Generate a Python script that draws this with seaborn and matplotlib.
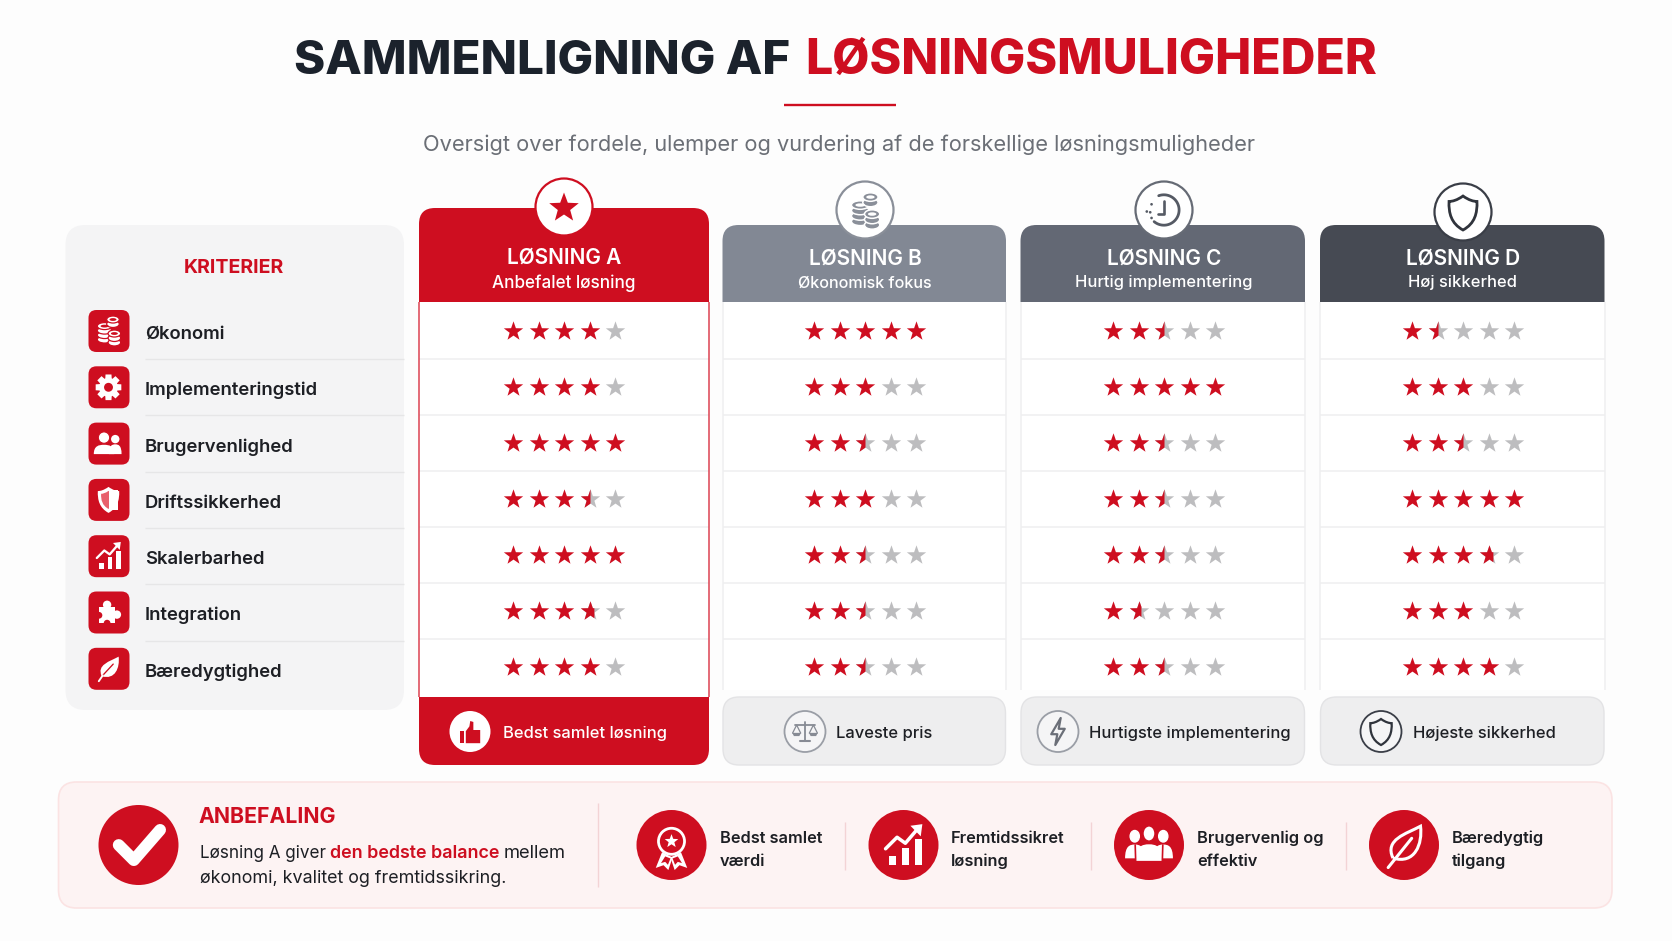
import numpy as np
import pandas as pd
import matplotlib
matplotlib.use("Agg")
import matplotlib.pyplot as plt
import seaborn as sns
from matplotlib.lines import Line2D
from matplotlib.markers import MarkerStyle
from matplotlib.patches import Circle, Ellipse, FancyBboxPatch, PathPatch, Polygon, Rectangle
from matplotlib.path import Path
from matplotlib.transforms import Bbox

sns.set_style("white")
plt.rcParams["font.family"] = ["Inter", "DejaVu Sans"]

# --- data ---
criteria = ["Økonomi", "Implementeringstid", "Brugervenlighed", "Driftssikkerhed",
            "Skalerbarhed", "Integration", "Bæredygtighed"]
solutions = ["LØSNING A", "LØSNING B", "LØSNING C", "LØSNING D"]
taglines = ["Anbefalet løsning", "Økonomisk fokus", "Hurtig implementering", "Høj sikkerhed"]
verdicts = ["Bedst samlet løsning", "Laveste pris", "Hurtigste implementering", "Højeste sikkerhed"]
rating_a = [4, 4, 5, 3.5, 5, 3.7, 4]
rating_b = [5, 3, 2.5, 3, 2.5, 2.5, 2.5]
rating_c = [2.5, 5, 2.5, 2.5, 2.5, 1.6, 2.5]
rating_d = [1.5, 3, 2.5, 5, 3.7, 3, 4]
benefits = [("Bedst samlet", "værdi"), ("Fremtidssikret", "løsning"),
            ("Brugervenlig og", "effektiv"), ("Bæredygtig", "tilgang")]

# --- layout and colours ---
RED = "#CE0E20"
INK = "#1B222C"
TEXT = "#1D1F24"
WHITE = "white"
HEAD = [RED, "#828894", "#636874", "#464A53"]
RING = [RED, "#8A8F99", "#666B75", "#3A3E47"]
COL_X = [(419, 709), (722.5, 1006), (1020.5, 1305), (1320, 1604.5)]
STAR_X = [564, 865, 1164, 1463]
CIRCLE_Y = [207, 210, 210, 212]
TAG_SIZE = [12.3, 11.6, 11.9, 11.9]

fig = plt.figure(figsize=(16.72, 9.41), dpi=100, facecolor="#FDFDFD")
ax = fig.add_axes([0, 0, 1, 1])
ax.set_facecolor("#FDFDFD")


def box(x0, y0, x1, y1, r, fc, ec="none", lw=0, z=1):
    ax.add_patch(FancyBboxPatch((x0, y0), x1 - x0, y1 - y0, boxstyle=f"round,pad=0,rounding_size={r}",
                                fc=fc, ec=ec, lw=lw, zorder=z))


def corner_box(x0, y0, x1, y1, top, bottom, fc, z=2):
    verts = [(x0 + top, y0), (x1 - top, y0), (x1, y0), (x1, y0 + top), (x1, y1 - bottom), (x1, y1),
             (x1 - bottom, y1), (x0 + bottom, y1), (x0, y1), (x0, y1 - bottom), (x0, y0 + top),
             (x0, y0), (x0 + top, y0)]
    codes = [Path.MOVETO, Path.LINETO, Path.CURVE3, Path.CURVE3, Path.LINETO, Path.CURVE3, Path.CURVE3,
             Path.LINETO, Path.CURVE3, Path.CURVE3, Path.LINETO, Path.CURVE3, Path.CURVE3]
    ax.add_patch(PathPatch(Path(verts, codes), fc=fc, ec="none", zorder=z))


def txt(x, y, s, size, color=TEXT, weight=600, ha="left"):
    ax.text(x, y, s, fontsize=size, color=color, fontweight=weight, ha=ha, va="baseline", zorder=8)


def line(pts, color, lw, z=6, cap="round"):
    xs, ys = zip(*pts)
    ax.add_line(Line2D(xs, ys, color=color, lw=lw, zorder=z, solid_capstyle=cap, solid_joinstyle="round"))


def unit(cx, cy, s, pts):
    return [(cx + a * s, cy + b * s) for a, b in pts]


def poly(cx, cy, s, pts, fc, z=6):
    ax.add_patch(Polygon(unit(cx, cy, s, pts), closed=True, fc=fc, ec="none", zorder=z))


def disc(cx, cy, r, fc, ec="none", lw=0, z=6):
    ax.add_patch(Circle((cx, cy), r, fc=fc, ec=ec, lw=lw, zorder=z))


def star_points(r=1.0):
    angles = np.deg2rad(np.arange(10) * 36 - 90)
    radii = np.where(np.arange(10) % 2 == 0, r, r * 0.42)
    return list(zip(radii * np.cos(angles), radii * np.sin(angles)))


def coins(cx, cy, s, fg, bg, gap=0.9):
    for x0, y0, n, a in [(-0.28, -0.35, 4, 0.52), (0.32, -0.82, 2, 0.45), (0.42, 0.18, 3, 0.45)]:
        for i in range(n - 1, -1, -1):
            y = y0 + i * 0.32
            ax.add_patch(Ellipse((cx + x0 * s, cy + y * s), 2 * a * s, 0.5 * s, fc=fg, ec=bg, lw=gap, zorder=6))
        ax.add_patch(Ellipse((cx + x0 * s, cy + y0 * s), 1.1 * a * s, 0.2 * s, fc=bg, ec="none", zorder=6.1))


def gear(cx, cy, s, fg, bg):
    for k in range(8):
        t = k * np.pi / 4
        c, d = np.cos(t), np.sin(t)
        pts = [(0.22 * -d + 0.95 * c, 0.22 * c + 0.95 * d), (-0.22 * -d + 0.95 * c, -0.22 * c + 0.95 * d),
               (-0.28 * -d, -0.28 * c), (0.28 * -d, 0.28 * c)]
        poly(cx, cy, s, pts, fg)
    disc(cx, cy, 0.7 * s, fg)
    disc(cx, cy, 0.33 * s, bg, z=6.5)


def body(cx, cy, s, x, y, w, h, fc, z=6):
    verts = [(x - w, y + h), (x - w, y + 0.1 * h), (x - 0.5 * w, y), (x, y), (x + 0.5 * w, y),
             (x + w, y + 0.1 * h), (x + w, y + h), (x - w, y + h)]
    codes = [Path.MOVETO, Path.CURVE4, Path.CURVE4, Path.CURVE4, Path.CURVE4, Path.CURVE4, Path.CURVE4, Path.CLOSEPOLY]
    ax.add_patch(PathPatch(Path(unit(cx, cy, s, verts), codes), fc=fc, ec="none", zorder=z))


def two_users(cx, cy, s, fg, bg):
    disc(cx + 0.55 * s, cy - 0.3 * s, 0.28 * s, fg)
    body(cx, cy, s, 0.55, 0.05, 0.42, 0.65, fg)
    disc(cx - 0.2 * s, cy - 0.4 * s, 0.38 * s, fg, ec=bg, lw=0.8, z=6.2)
    body(cx, cy, s, -0.2, 0.08, 0.68, 0.62, fg, z=6.2)


def three_users(cx, cy, s, fg, bg):
    for x in (-0.62, 0.62):
        ax.add_patch(Ellipse((cx + x * s, cy - 0.38 * s), 0.4 * s, 0.5 * s, fc=fg, zorder=6))
        body(cx, cy, s, x, -0.02, 0.42, 0.6, fg)
    ax.add_patch(Ellipse((cx, cy - 0.5 * s), 0.52 * s, 0.66 * s, fc=fg, ec=bg, lw=1, zorder=6.2))
    body(cx, cy, s, 0, -0.03, 0.58, 0.72, fg, z=6.2)
    ax.add_line(Line2D([cx - 0.6 * s, cx - 0.58 * s], [cy, cy + 0.68 * s], color=bg, lw=1.2, zorder=6.3))
    ax.add_line(Line2D([cx + 0.6 * s, cx + 0.58 * s], [cy, cy + 0.68 * s], color=bg, lw=1.2, zorder=6.3))


def shield_path(cx, cy, s):
    verts = [(0, -1), (0.35, -0.75), (0.62, -0.68), (0.82, -0.68), (0.85, 0.0), (0.7, 0.62), (0, 1),
             (-0.7, 0.62), (-0.85, 0.0), (-0.82, -0.68), (-0.62, -0.68), (-0.35, -0.75), (0, -1), (0, -1)]
    codes = [Path.MOVETO] + [Path.CURVE4] * 12 + [Path.CLOSEPOLY]
    return Path(unit(cx, cy, s, verts), codes)


def shield(cx, cy, s, fc, ec="none", lw=0):
    ax.add_patch(PathPatch(shield_path(cx, cy, s), fc=fc, ec=ec, lw=lw, zorder=6))


def chart(cx, cy, s, fg):
    for x, top in [(-0.62, 0.42), (-0.05, 0.08), (0.52, -0.32)]:
        ax.add_patch(Rectangle((cx + x * s, cy + top * s), 0.3 * s, (0.82 - top) * s, fc=fg, ec="none", zorder=6))
    line(unit(cx, cy, s, [(-0.78, 0.12), (-0.28, -0.38), (0.08, -0.12), (0.62, -0.75)]), fg, 0.11 * s)
    poly(cx, cy, s, [(0.3, -0.88), (0.82, -0.95), (0.75, -0.42)], fg)


def puzzle(cx, cy, s, fg, bg):
    ax.add_patch(Rectangle((cx - 0.68 * s, cy - 0.38 * s), 1.15 * s, 1.12 * s, fc=fg, ec="none", zorder=6))
    disc(cx - 0.1 * s, cy - 0.55 * s, 0.3 * s, fg)
    disc(cx + 0.6 * s, cy + 0.15 * s, 0.3 * s, fg)
    disc(cx - 0.68 * s, cy + 0.2 * s, 0.24 * s, bg, z=6.2)
    disc(cx - 0.1 * s, cy + 0.76 * s, 0.24 * s, bg, z=6.2)


def leaf(cx, cy, s, fg, bg, filled=True, lw=2):
    verts = [(-0.5, 0.55), (-0.9, -0.3), (0.1, -0.55), (0.75, -0.9), (0.85, -0.1), (0.5, 0.85), (-0.5, 0.55)]
    codes = [Path.MOVETO] + [Path.CURVE4] * 6
    ax.add_patch(PathPatch(Path(unit(cx, cy, s, verts), codes), fc=fg if filled else "none",
                           ec=fg, lw=0 if filled else lw, zorder=6))
    if filled:
        line(unit(cx, cy, s, [(-0.42, 0.48), (0.35, -0.35)]), bg, 0.07 * s, z=6.2)
        line(unit(cx, cy, s, [(-0.72, 0.92), (-0.42, 0.48)]), fg, 0.1 * s, z=6.2)
    else:
        line(unit(cx, cy, s, [(-0.72, 0.98), (0.35, -0.35)]), fg, lw, z=6.2)


def rosette(cx, cy, s, fg, bg):
    poly(cx, cy, s, [(-0.45, 0.2), (-0.75, 0.95), (-0.38, 0.82), (-0.15, 1.05), (0.05, 0.45)], fg)
    poly(cx, cy, s, [(0.45, 0.2), (0.75, 0.95), (0.38, 0.82), (0.15, 1.05), (-0.05, 0.45)], fg)
    poly(cx, cy, s, [(-0.3, 0.4), (-0.5, 0.72), (-0.3, 0.66), (-0.17, 0.8), (-0.05, 0.5)], bg, z=6.1)
    poly(cx, cy, s, [(0.3, 0.4), (0.5, 0.72), (0.3, 0.66), (0.17, 0.8), (0.05, 0.5)], bg, z=6.1)
    disc(cx, cy - 0.32 * s, 0.62 * s, bg, ec=fg, lw=2, z=6.2)
    poly(cx, cy - 0.32 * s, 0.34 * s, star_points(), fg, z=6.4)


def clock(cx, cy, s, fg):
    t = np.linspace(np.deg2rad(-110), np.deg2rad(130), 40)
    line(list(zip(cx + 0.1 * s + 0.8 * s * np.cos(t), cy + 0.8 * s * np.sin(t))), fg, 2)
    line(unit(cx, cy, s, [(0.1, -0.45), (0.1, 0.2), (-0.2, 0.2)]), fg, 1.9)
    for x, y in [(-0.55, -0.3), (-0.8, 0.08), (-0.62, 0.12), (-0.55, 0.42)]:
        disc(cx + x * s, cy + y * s, 0.07 * s, fg)


def balance(cx, cy, s, fg):
    line(unit(cx, cy, s, [(0, -0.7), (0, 0.65)]), fg, 1.3)
    line(unit(cx, cy, s, [(-0.75, -0.5), (0.75, -0.5)]), fg, 1.3)
    line(unit(cx, cy, s, [(-0.35, 0.7), (0.35, 0.7)]), fg, 1.5)
    for x in (-0.62, 0.62):
        line(unit(cx, cy, s, [(x - 0.3, 0.12), (x, -0.48), (x + 0.3, 0.12)]), fg, 0.9)
        poly(cx, cy, s, [(x - 0.33, 0.1), (x + 0.33, 0.1), (x + 0.2, 0.34), (x - 0.2, 0.34)], fg)


def bolt(cx, cy, s, fg):
    pts = [(0.2, -1), (-0.5, 0.2), (-0.05, 0.2), (-0.2, 1), (0.5, -0.2), (0.05, -0.2)]
    ax.add_patch(Polygon(unit(cx, cy, s, pts), closed=True, fc="none", ec=fg, lw=1.6, zorder=6, joinstyle="round"))


def thumb(cx, cy, s, fg):
    ax.add_patch(Rectangle((cx - 0.85 * s, cy - 0.15 * s), 0.38 * s, 1.0 * s, fc=fg, ec="none", zorder=6.2))
    pts = [(-0.35, -0.15), (-0.05, -0.55), (0.02, -1.0), (0.28, -0.92), (0.28, -0.25), (0.85, -0.25),
           (0.85, 0.85), (-0.35, 0.85)]
    poly(cx, cy, s, pts, fg, z=6.2)


def check(cx, cy, s, fg):
    line(unit(cx, cy, s, [(-0.55, 0.0), (-0.13, 0.42), (0.6, -0.42)]), fg, 8.5)


# --- title block ---
txt(294, 73.5, "SAMMENLIGNING AF", 34.2, INK, 800)
txt(805, 73.5, "LØSNINGSMULIGHEDER", 34.7, RED, 800)
line([(784, 105), (896, 105)], RED, 1.7, cap="butt")
txt(839, 151, "Oversigt over fordele, ulemper og vurdering af de forskellige løsningsmuligheder",
    15.7, "#6B6F76", 400, ha="center")

# --- criteria panel ---
box(65.5, 225, 404, 710, 20, "#F4F4F5")
txt(233.5, 273, "KRITERIER", 14.1, RED, 700, ha="center")
ICON_Y = [331 + 56.3 * i for i in range(7)]
for i, name in enumerate(criteria):
    y = ICON_Y[i]
    box(88.5, y - 21, 129.5, y + 21, 8, RED, z=3)
    txt(145, y + 8, name, 13.3, TEXT, 600)
    if i < 6:
        line([(145, y + 28), (404, y + 28)], "#E6E6E7", 1.0, z=2, cap="butt")
coins(108.5, ICON_Y[0], 14, WHITE, RED)
gear(108.5, ICON_Y[1], 13.5, WHITE, RED)
two_users(107, ICON_Y[2], 15, WHITE, RED)
shield(108.5, ICON_Y[3], 13, WHITE)
ax.add_patch(PathPatch(shield_path(108.5, ICON_Y[3], 9), fc="#E8606C", ec="none", zorder=6.1))
ax.add_patch(Rectangle((108.5, ICON_Y[3] - 10), 9.5, 20, fc=WHITE, ec="none", zorder=6.2))
chart(108.5, ICON_Y[4], 15, WHITE)
puzzle(108.5, ICON_Y[5], 14, WHITE, RED)
leaf(108.5, ICON_Y[6], 13.5, WHITE, RED)

# --- solution columns ---
for i, (x0, x1) in enumerate(COL_X):
    top = 208 if i == 0 else 225
    corner_box(x0, 302, x1, 697 if i == 0 else 690, 0, 0, WHITE, z=1.5)
    corner_box(x0, top, x1, 302, 16, 0, HEAD[i])
    edge = "#DC4352" if i == 0 else "#EFEFF0"
    for x in (x0, x1):
        line([(x, 302), (x, 697 if i == 0 else 690)], edge, 1.1, z=2.2, cap="butt")
    for k in range(6):
        y = 358.5 + 56.15 * k
        line([(x0, y), (x1, y)], "#EFEFF0", 1.1, z=2.1, cap="butt")
    cx = STAR_X[i]
    cy = CIRCLE_Y[i]
    disc(cx, cy, 28.5, WHITE, ec=RING[i], lw=1.6, z=4)
    base = 263.5 if i == 0 else 265
    txt(cx, base, solutions[i], 15, WHITE, 600, ha="center")
    txt(cx, 287.5, taglines[i], TAG_SIZE[i], WHITE, 500, ha="center")
    if i == 0:
        corner_box(x0, 697, x1, 765, 0, 16, RED)
    else:
        box(x0 + 0.5, 697, x1 - 0.5, 765, 16, "#EEEEEF", ec="#E3E3E5", lw=1, z=2)

poly(564, 208, 15.5, star_points(), RED)
coins(865, 211, 17, "#8A8F99", WHITE, gap=1.1)
clock(1162, 210, 19, "#555A64")
shield(1463, 213, 17, WHITE, ec="#30343C", lw=2)

# footer badges
FOOT_X = [470, 805, 1058, 1381]
TEXT_X = [503, 836, 1089, 1413]
for i in range(4):
    if i == 0:
        disc(FOOT_X[i], 731.5, 20.5, WHITE, z=4)
    else:
        disc(FOOT_X[i], 731.5, 20.5, "#F5F5F6", ec=RING[i] if i == 3 else "#9A9EA6", lw=1.3, z=4)
    txt(TEXT_X[i], 737.7, verdicts[i], 11.9, WHITE if i == 0 else TEXT, 500)
thumb(470, 733, 12, RED)
balance(805, 731.5, 13.5, "#878B94")
bolt(1058, 731.5, 13.5, "#6B6F78")
shield(1381, 732, 13, "#F5F5F6", ec="#30343C", lw=1.6)

# --- stars, drawn from the rating arrays ---
ratings = [rating_a, rating_b, rating_c, rating_d]
rows = []
for col, values in enumerate(ratings):
    for row, value in enumerate(values):
        for pos in range(5):
            rows.append({"x": STAR_X[col] + (pos - 2) * 25.5, "y": 331 + 55.95 * row,
                         "fill": round(float(np.clip(value - pos, 0, 1)), 2)})
stars = pd.DataFrame(rows)


def partial_star(frac):
    r = np.array([1.0 if k % 2 == 0 else 0.40 for k in range(10)])
    a = np.deg2rad(90 + 36 * np.arange(10))
    verts = np.column_stack([r * np.cos(a), r * np.sin(a)])
    verts = np.vstack([verts, verts[0]])
    codes = [Path.MOVETO] + [Path.LINETO] * 9 + [Path.CLOSEPOLY]
    star = Path(verts, codes)
    if frac >= 1:
        return star
    width = np.cos(np.deg2rad(18))
    return star.clip_to_bbox(Bbox([[-1.1, -1.1], [-width + 2 * width * frac, 1.1]]))


STAR_S = 215
sns.scatterplot(data=stars[stars["fill"] < 1], x="x", y="y", ax=ax, marker=MarkerStyle(partial_star(1)),
                color="#BDBDBF", s=STAR_S, linewidth=0, legend=False, zorder=5)
for frac, group in stars[stars["fill"] > 0].groupby("fill"):
    sns.scatterplot(data=group, x="x", y="y", ax=ax, marker=MarkerStyle(partial_star(frac)),
                    color=RED, s=STAR_S, linewidth=0, legend=False, zorder=5.5)

# --- recommendation strip ---
box(58.5, 782, 1612, 908, 18, "#FDF3F3", ec="#FBE3E3", lw=1.2)
disc(138.5, 845, 40, RED)
check(138.5, 845, 36, WHITE)
txt(198.5, 823.3, "ANBEFALING", 15.3, RED, 700)
txt(199.5, 858, "Løsning A giver", 12.3, TEXT, 400)
txt(330.5, 858, "den bedste balance", 12.9, RED, 600)
txt(504, 858, "mellem", 13.2, TEXT, 400)
txt(199.5, 882.7, "økonomi, kvalitet og fremtidssikring.", 12.9, TEXT, 400)

for x, y0, y1 in [(598, 803, 887), (845, 822, 870), (1091, 822, 870), (1345.5, 822, 870)]:
    line([(x, y0), (x, y1)], "#F3D3D5", 1.0, z=2, cap="butt")
BADGE_X = [671.5, 903.5, 1149, 1404]
LABEL_X = [719.5, 951, 1197, 1452]
for x, lx, (first, second) in zip(BADGE_X, LABEL_X, benefits):
    disc(x, 845, 35, RED)
    txt(lx, 842.7, first, 11.75, TEXT, 600)
    txt(lx, 866, second, 11.75, TEXT, 600)
rosette(671.5, 848, 21, WHITE, RED)
chart(903.5, 846, 23, WHITE)
three_users(1149, 845, 23, WHITE, RED)
leaf(1404, 846, 22, WHITE, RED, filled=False, lw=2.2)

ax.set_xlim(0, 1672)
ax.set_ylim(941, 0)
ax.axis("off")
fig.savefig("out.png", dpi=100, facecolor=fig.get_facecolor())
